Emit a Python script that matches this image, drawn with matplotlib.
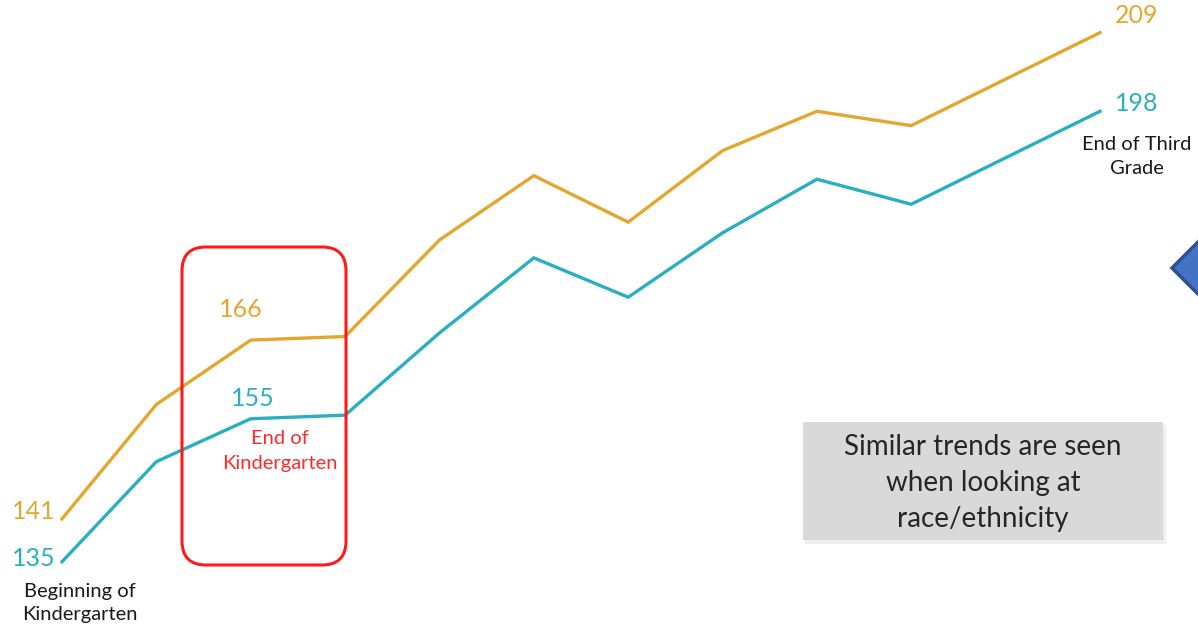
import matplotlib.pyplot as plt
from matplotlib.patches import FancyBboxPatch, Polygon

plt.rcParams['font.family'] = ['Lato', 'DejaVu Sans']

# scale scores from start of kindergarten to end of third grade
waves = list(range(12))
gold_scores = [141, 157, 166, 166.5, 180, 189, 182.5, 192.5, 198, 196, 202.5, 209]
teal_scores = [135, 149, 155, 155.5, 167, 177.5, 172, 181, 188.5, 185, 191.5, 198]

gold = '#E3A72F'
teal = '#2AAFC2'

W, H = 1198, 628
fig = plt.figure(figsize=(W / 100, H / 100), dpi=100)

# main axes: x index 0 at pixel 62, step ~94.4 px; 7.15 px per score point
ax = fig.add_axes([0, 0, 1, 1])
step = (1100 - 62) / 11
ax.set_xlim(-62 / step, (W - 62) / step)
ax.set_ylim((1527 - H) / 7.15, 1527 / 7.15)
ax.axis('off')

ax.plot(waves, gold_scores, color=gold, lw=2.4, solid_joinstyle='miter', zorder=3)
ax.plot(waves, teal_scores, color=teal, lw=2.4, solid_joinstyle='miter', zorder=3)

# value labels on the key points
labels = [
    (0, gold_scores, gold, (-28, 7)),
    (0, teal_scores, teal, (-28, 3)),
    (2, gold_scores, gold, (-10, 31)),
    (2, teal_scores, teal, (2, 20)),
    (11, gold_scores, gold, (37, 17)),
    (11, teal_scores, teal, (37, 8)),
]
for i, s, c, off in labels:
    ax.annotate(f"{s[i]:g}", xy=(waves[i], s[i]), xytext=off,
                textcoords='offset pixels', ha='center', va='center',
                color=c, fontsize=18, zorder=4)

# overlay in pixel coordinates for boxes and notes
ov = fig.add_axes([0, 0, 1, 1])
ov.set_xlim(0, W)
ov.set_ylim(H, 0)
ov.axis('off')
ov.patch.set_alpha(0)

ov.add_patch(FancyBboxPatch((182, 247), 164, 318,
                            boxstyle='round,pad=0,rounding_size=24',
                            fill=False, ec='#FF1A1A', lw=2.2, zorder=5))
ov.text(280, 451, "End of\nKindergarten", color='#FF2A2A', fontsize=14.5,
        ha='center', va='center', linespacing=1.5)

ov.text(80, 603, "Beginning of\nKindergarten", color='#1a1a1a', fontsize=14.5,
        ha='center', va='center', linespacing=1.45)
ov.text(1137, 156, "End of Third\nGrade", color='#1a1a1a', fontsize=14.5,
        ha='center', va='center', linespacing=1.5)

# grey note box with a soft shadow
ov.add_patch(FancyBboxPatch((805, 425), 361, 119, boxstyle='square,pad=0',
                            fc='#EFEFEF', ec='none', zorder=1))
ov.add_patch(FancyBboxPatch((803, 422), 360, 118, boxstyle='square,pad=0',
                            fc='#D9D9D9', ec='none', zorder=2))
ov.text(983, 483, "Similar trends are seen\nwhen looking at\nrace/ethnicity",
        color='#262626', fontsize=20, ha='center', va='center',
        linespacing=1.48, zorder=3)

# blue pointer cut off at the right edge
ov.add_patch(Polygon([(1172, 268), (1202, 238), (1202, 298)], closed=True,
                     fc='#4472C4', ec='#2F528F', lw=2.5, zorder=5))

fig.savefig('out.png', dpi=100)
